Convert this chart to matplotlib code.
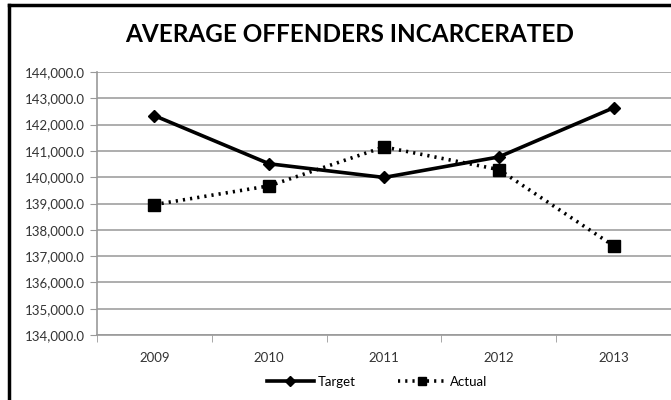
import matplotlib
matplotlib.use("Agg")
import matplotlib.pyplot as plt
from matplotlib.lines import Line2D
from matplotlib.ticker import FuncFormatter, FixedLocator

years = ["2009", "2010", "2011", "2012", "2013"]
target = [142340, 140510, 139990, 140770, 142640]
actual = [138960, 139670, 141150, 140290, 137390]
yticks = list(range(134000, 144001, 1000))

plt.rcParams['font.family'] = ['Lato', 'DejaVu Sans']

fig = plt.figure(figsize=(6.71, 4.0), dpi=100)
ax = fig.add_axes([97/671, 65/400, 1 - 97/671, 263/400])

x = list(range(len(years)))
ax.plot(x, target, color='black', lw=2.6, marker='D', markersize=6, label='Target')
ax.plot(x, actual, color='black', lw=2.6, linestyle=(0, (0.6, 1.4)), marker='s',
        markersize=8, label='Actual')

ax.set_xlim(-0.5, len(years) - 0.5)
ax.set_ylim(134000, 144000)
ax.set_yticks(yticks)
ax.yaxis.set_major_formatter(FuncFormatter(lambda v, p: f"{v:,.1f}"))
ax.set_xticks(x)
ax.set_xticklabels(years)
ax.xaxis.set_minor_locator(FixedLocator([i - 0.5 for i in range(len(years) + 1)]))
ax.tick_params(axis='x', which='major', length=0, pad=12, labelsize=9.5, colors='#333333')
ax.tick_params(axis='x', which='minor', length=5, color='#999999', direction='out')
ax.tick_params(axis='y', length=5, color='#999999', labelsize=9.5, colors='#333333', pad=4)
ax.grid(axis='y', color='#a0a0a0', lw=1.2)
ax.set_axisbelow(True)
for s in ['top', 'right']:
    ax.spines[s].set_visible(False)
ax.spines['left'].set_color('#999999')
ax.spines['bottom'].set_color('#999999')
ax.spines['left'].set_linewidth(1.2)
ax.spines['bottom'].set_linewidth(1.2)

fig.text(350/671, 1 - 35/400, "AVERAGE OFFENDERS INCARCERATED", ha='center', va='center',
         fontsize=17.5, fontweight='bold', color='black')

fig.legend(loc='center', bbox_to_anchor=(377/671, 1 - 382/400), ncol=2, frameon=False,
           fontsize=9.5, handlelength=3.6, columnspacing=3.2, handletextpad=0.3,
           markerscale=0.8)

fig.add_artist(Line2D([9/671, 9/671], [0, 1 - 5/400], transform=fig.transFigure, color='black', lw=2.5))
fig.add_artist(Line2D([9/671, 1], [1 - 5/400, 1 - 5/400], transform=fig.transFigure, color='black', lw=2.5))

fig.savefig("out.png", dpi=100)
